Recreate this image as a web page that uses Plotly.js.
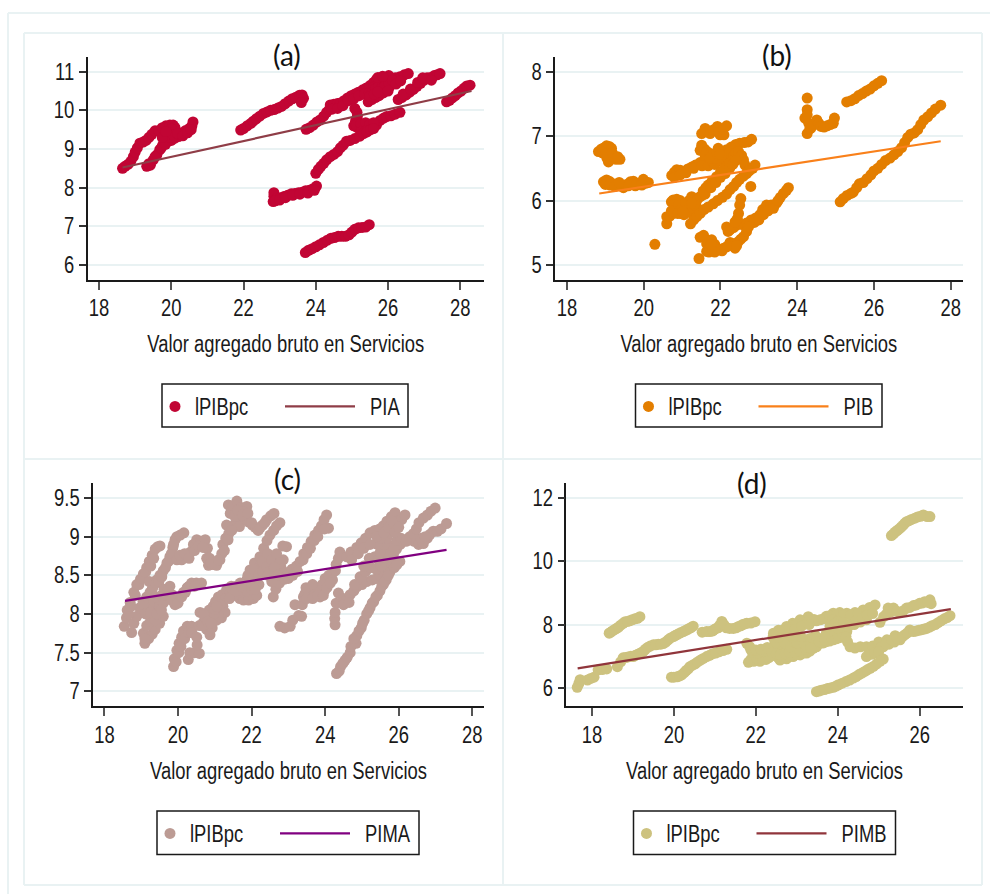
<!DOCTYPE html>
<html><head><meta charset="utf-8">
<script src="https://cdn.plot.ly/plotly-3.0.1.min.js"></script>
<style>html,body{margin:0;padding:0;background:#fff}#g{width:990px;height:894px}</style>
</head><body><div id="g"></div>
<script>
const xTitle = "Valor agregado bruto en Servicios";
const markerName = "lPIBpc";
const panelLabels = ["(a)","(b)","(c)","(d)"];
const lineNames = ["PIA","PIB","PIMA","PIMB"];
const xTicks = [[18,20,22,24,26,28],[18,20,22,24,26,28],[18,20,22,24,26,28],[18,20,22,24,26]];
const yTicks = [[6,7,8,9,10,11],[5,6,7,8],[7,7.5,8,8.5,9,9.5],[6,8,10,12]];
const yTickText = [["6","7","8","9","10","11"],["5","6","7","8"],["7","7.5","8","8.5","9","9.5"],["6","8","10","12"]];

const lineA = [[18.65,8.52],[28.31,10.5]];
const lineB = [[18.84,6.11],[27.74,6.92]];
const lineC = [[18.56,8.17],[27.3,8.83]];
const lineD = [[17.65,6.62],[26.76,8.49]];

const pointsA = [
[18.65,8.5],[18.72,8.55],[18.8,8.6],[18.88,8.68],[18.95,8.8],[19.0,8.92],[19.06,9.03],[19.13,9.15],[19.22,9.18],[19.3,9.22],[19.38,9.3],[19.46,9.38],[19.55,9.47],[19.65,9.47],[19.75,9.55],[19.85,9.6],[19.96,9.62],[20.05,9.62],[20.1,9.56],
[19.32,8.55],[19.42,8.58],[19.5,8.72],[19.6,8.85],[19.68,8.98],[19.76,9.1],[19.82,9.2],[19.9,9.35],[19.95,9.45],[20.0,9.52],[19.9,9.2],[20.0,9.22],[20.1,9.28],[20.2,9.32],[20.3,9.42],[20.4,9.48],[20.5,9.53],[20.57,9.6],[20.6,9.7],
[19.38,8.62],[19.55,8.8],[19.72,9.02],[19.84,9.12],[19.96,9.3],[20.06,9.36],[20.18,9.4],[20.32,9.34],[20.45,9.42],[20.55,9.5],[19.75,9.3],[19.85,9.45],
[21.92,9.49],[22.0,9.53],[22.1,9.6],[22.2,9.66],[22.27,9.72],[22.35,9.78],[22.45,9.85],[22.55,9.92],[22.65,9.96],[22.75,10.0],[22.85,10.02],[22.95,10.06],[23.05,10.1],[23.15,10.17],[23.25,10.24],[23.35,10.3],[23.45,10.34],[23.55,10.39],[23.62,10.4],[23.66,10.31],[23.6,10.2],
[23.73,9.51],[23.83,9.55],[23.93,9.62],[24.03,9.7],[24.12,9.75],[24.22,9.85],[24.3,9.95],[24.38,10.03],[24.4,10.14],[24.5,10.16],[24.6,10.18],[24.68,10.19],[24.78,10.25],[24.88,10.32],[24.98,10.38],[25.08,10.42],[25.18,10.47],[25.3,10.53],[25.4,10.58],[25.5,10.64],[25.6,10.72],[25.68,10.8],[25.8,10.8],[25.9,10.82],[26.0,10.86],[26.1,10.82],[26.2,10.84],[26.33,10.87],[26.45,10.92],[26.56,10.95],
[24.45,10.03],[24.6,10.05],[24.75,10.12],[24.9,10.25],[25.05,10.3],[25.2,10.38],[25.35,10.42],[25.48,10.46],[25.6,10.52],[25.6,10.6],[25.75,10.7],
[25.45,10.22],[25.55,10.28],[25.65,10.33],[25.75,10.38],[25.87,10.45],[25.95,10.52],[26.05,10.62],[26.14,10.7],[26.25,10.78],[25.55,10.45],[25.65,10.55],[25.75,10.62],[25.85,10.7],[25.95,10.76],[26.02,10.9],[25.72,10.85],
[25.82,10.56],[25.92,10.64],[26.02,10.72],[26.12,10.78],[26.22,10.68],[26.35,10.76],[25.85,10.88],[25.5,10.36],[25.62,10.42],[25.72,10.48],[26.0,10.5],
[26.28,10.28],[26.38,10.33],[26.5,10.4],[26.6,10.47],[26.7,10.54],[26.8,10.62],[26.9,10.7],[27.0,10.78],[27.08,10.84],[27.18,10.85],[27.28,10.9],[27.36,10.92],[27.44,10.95],
[26.42,10.42],[26.62,10.55],[26.82,10.72],[26.96,10.84],[27.2,10.78],
[27.62,10.22],[27.7,10.26],[27.78,10.32],[27.86,10.38],[27.94,10.45],[28.02,10.5],[28.1,10.57],[28.18,10.63],[28.27,10.65],
[25.08,10.05],[25.14,9.95],[25.15,9.84],[25.1,9.72],[25.05,9.6],[25.15,9.55],[25.3,9.53],[25.42,9.56],[25.55,9.58],[25.68,9.62],[25.78,9.74],[25.88,9.8],[25.96,9.84],[26.08,9.86],[26.2,9.9],[26.33,9.95],
[25.12,9.62],[25.25,9.65],[25.38,9.68],[25.5,9.64],[25.6,9.68],[25.25,9.44],[25.4,9.48],
[24.0,8.37],[24.07,8.47],[24.14,8.55],[24.22,8.63],[24.3,8.72],[24.4,8.8],[24.5,8.86],[24.6,8.93],[24.68,9.03],[24.76,9.1],[24.85,9.2],[24.95,9.22],[25.08,9.27],[25.22,9.33],[25.32,9.4],[25.42,9.44],[25.52,9.5],[25.6,9.53],
[22.82,7.64],[22.84,7.78],[22.84,7.87],[22.92,7.72],[23.02,7.74],[23.12,7.77],[23.22,7.8],[23.32,7.84],[23.42,7.85],[23.52,7.87],[23.62,7.88],[23.72,7.92],[23.82,7.93],[23.92,7.97],[24.02,8.04],
[22.88,7.66],[23.0,7.68],[23.16,7.74],[23.36,7.8],[23.56,7.83],[23.78,7.86],[23.96,7.93],
[23.71,6.32],[23.8,6.38],[23.9,6.42],[24.0,6.47],[24.1,6.52],[24.21,6.58],[24.32,6.64],[24.42,6.69],[24.52,6.71],[24.62,6.74],[24.72,6.74],[24.82,6.74],[24.92,6.78],[25.0,6.85],[25.08,6.92],[25.18,6.96],[25.28,6.97],[25.38,6.98],[25.48,7.04]
];

const pointsB = [
[18.82,6.76],[18.9,6.8],[18.97,6.82],[19.03,6.85],[19.1,6.84],[19.16,6.81],[19.1,6.72],[19.08,6.6],[19.14,6.64],[19.2,6.68],[19.28,6.64],[19.38,6.64],
[18.92,6.74],[19.0,6.72],[19.04,6.66],[19.18,6.74],[19.32,6.68],
[18.95,6.29],[19.03,6.32],[19.1,6.3],[19.2,6.26],[19.3,6.25],[19.4,6.24],[19.47,6.2],[19.55,6.25],[19.65,6.29],[19.73,6.3],[19.82,6.26],[19.92,6.27],[19.99,6.33],[20.06,6.27],[20.12,6.28],
[19.0,6.25],[19.12,6.24],[19.25,6.22],[19.36,6.28],[19.6,6.23],[19.78,6.23],[19.95,6.24],
[20.29,5.32],
[20.73,6.39],[20.8,6.44],[20.86,6.48],[20.95,6.47],[21.05,6.44],[21.15,6.49],[21.25,6.52],[21.35,6.55],[21.47,6.59],[21.58,6.6],[21.7,6.6],[21.81,6.62],[21.92,6.68],[22.02,6.72],[22.16,6.79],[22.28,6.83],[22.4,6.87],[22.5,6.89],[22.62,6.9],[22.72,6.91],[22.81,6.95],
[20.8,6.36],[20.95,6.4],[21.1,6.43],[21.3,6.5],[21.52,6.54],[21.68,6.54],[21.85,6.56],[22.0,6.62],[22.12,6.7],[22.22,6.74],
[21.51,7.04],[21.6,7.12],[21.68,7.08],[21.73,7.04],[21.82,7.1],[21.92,7.15],[21.96,7.06],[21.99,7.02],[22.08,7.12],[22.16,7.16],[22.09,7.02],
[21.47,6.78],[21.51,6.86],[21.58,6.8],[21.65,6.76],[21.73,6.73],[21.78,6.62],[21.85,6.66],[21.94,6.81],[22.03,6.68],
[21.6,6.7],[21.72,6.66],[21.9,6.74],[21.98,6.72],
[20.6,5.75],[20.6,5.64],[20.68,5.76],[20.77,5.8],[20.72,5.98],[20.77,6.01],[20.86,6.02],[20.95,6.0],[20.85,5.87],[20.95,5.8],[21.05,5.78],[21.12,5.88],[21.05,5.95],[21.18,6.0],[21.25,6.06],[21.2,5.82],[21.32,5.98],[21.4,6.02],[21.47,6.06],[21.55,6.15],[21.62,6.2],[21.68,6.24],[21.78,6.3],[21.9,6.37],[22.0,6.44],[22.08,6.48],[22.16,6.53],[22.25,6.58],[22.34,6.68],[22.4,6.74],[22.47,6.76],[22.55,6.7],[22.6,6.63],[22.64,6.55],[22.75,6.48],[22.84,6.5],[22.9,6.55],
[20.8,5.93],[20.9,5.92],[21.0,5.88],[21.1,5.96],[21.15,5.86],[21.28,5.9],[21.36,5.92],[20.72,5.84],[20.88,5.8],[21.02,5.82],[21.25,5.96],[21.52,6.08],[21.6,6.1],[21.75,6.2],[21.88,6.28],[22.0,6.36],[22.12,6.42],[22.24,6.5],[22.32,6.56],[22.4,6.62],
[21.22,5.64],[21.3,5.7],[21.38,5.75],[21.47,5.8],[21.57,5.86],[21.68,5.9],[21.81,5.95],[21.92,6.0],[22.05,6.05],[22.16,6.1],[22.25,6.17],[22.34,6.22],[22.42,6.28],[22.5,6.33],[22.6,6.38],[22.68,6.42],[22.75,6.46],[22.79,6.22],
[22.16,5.59],[22.25,5.55],[22.34,5.58],[22.42,5.62],[22.55,5.63],[22.68,5.65],[22.8,5.7],[22.92,5.73],[23.03,5.78],[23.1,5.86],[23.2,5.93],[23.32,5.93],[23.46,5.96],[23.56,6.05],[23.64,6.11],[23.72,6.16],[23.77,6.2],
[22.2,5.52],[22.72,5.6],[22.88,5.66],[23.0,5.7],[23.12,5.78],[23.24,5.84],[23.38,5.88],[23.5,6.0],
[22.53,6.03],[22.5,5.93],[22.47,5.8],[22.44,5.72],[22.38,5.67],
[21.44,5.1],[21.47,5.43],[21.56,5.46],[21.64,5.33],[21.64,5.21],[21.72,5.26],[21.77,5.39],[21.85,5.32],[21.9,5.26],[21.98,5.24],[22.08,5.26],[22.16,5.28],[22.25,5.35],[22.32,5.33],[22.38,5.26],[22.46,5.36],[22.53,5.4],[22.6,5.44],[22.68,5.52],[22.73,5.59],
[21.7,5.2],[21.8,5.22],[21.85,5.2],[21.75,5.32],[22.04,5.22],[22.2,5.3],[22.42,5.3],
[24.2,7.28],[24.26,7.41],[24.26,7.33],[24.26,7.59],[24.3,7.2],[24.33,7.12],[24.26,7.04],[24.35,7.12],[24.42,7.17],[24.51,7.25],[24.56,7.2],[24.62,7.15],[24.7,7.14],[24.78,7.16],[24.86,7.18],[24.94,7.2],[24.97,7.28],
[25.29,7.53],[25.4,7.55],[25.5,7.58],[25.6,7.63],[25.7,7.66],[25.8,7.7],[25.9,7.73],[26.0,7.78],[26.1,7.82],[26.2,7.86],
[25.12,5.98],[25.2,6.03],[25.3,6.08],[25.4,6.11],[25.46,6.13],[25.55,6.2],[25.62,6.26],[25.72,6.28],[25.82,6.34],[25.92,6.4],[26.0,6.46],[26.1,6.5],[26.2,6.56],[26.3,6.62],[26.42,6.66],[26.52,6.71],[26.62,6.76],[26.72,6.82],[26.8,6.9],[26.88,6.98],[26.96,7.03],[27.05,7.05],[27.14,7.1],[27.22,7.18],[27.3,7.25],[27.4,7.3],[27.5,7.36],[27.6,7.42],[27.74,7.48]
];

const pointsC = [
[18.54,7.84],[18.6,7.95],[18.62,8.05],[18.7,8.15],[18.8,8.28],[18.88,8.38],[18.98,8.45],[19.06,8.52],[19.15,8.6],[19.22,8.68],[19.3,8.76],[19.38,8.84],[19.45,8.87],[19.51,8.88],
[18.74,7.76],[18.8,7.88],[18.88,7.97],[18.96,8.08],[19.05,8.16],[19.15,8.22],[19.24,8.28],[19.33,8.36],[19.42,8.44],[19.51,8.5],[19.6,8.56],[19.7,8.66],[19.78,8.74],[19.86,8.86],[19.92,8.96],[19.97,9.0],[20.06,9.02],[20.16,9.05],
[18.66,8.0],[18.72,8.1],[18.84,8.24],[18.94,8.38],[19.02,8.46],[19.12,8.54],[19.26,8.62],[19.34,8.72],[19.22,8.42],[19.3,8.32],[19.4,8.4],[19.48,8.42],[19.56,8.48],[19.66,8.6],[19.74,8.68],[19.82,8.78],[19.88,8.9],
[19.1,7.62],[19.06,7.75],[19.2,7.68],[19.3,7.74],[19.38,7.8],[19.5,7.88],[19.6,7.97],[19.48,8.02],[19.33,8.05],[19.2,8.1],[19.06,8.12],[19.2,8.2],[19.35,8.16],[19.5,8.1],[19.6,8.14],[19.68,8.24],[19.78,8.36],[19.84,8.25],[19.92,8.12],[20.02,8.2],[20.15,8.28],[20.25,8.34],[20.37,8.4],[20.5,8.4],[20.64,8.4],
[19.1,7.68],[19.15,7.85],[19.25,7.9],[19.38,7.92],[19.12,8.0],[19.25,8.02],[19.42,8.0],[19.55,8.05],[19.4,8.22],[19.55,8.24],[19.62,8.32],[19.72,8.3],[19.82,8.18],[20.0,8.14],[20.1,8.22],[20.2,8.28],[20.3,8.36],[20.45,8.36],
[19.97,8.7],[20.1,8.7],[20.24,8.74],[20.34,8.8],[20.42,8.9],[20.51,8.96],[20.62,8.94],[20.74,8.96],[20.8,8.85],[20.78,8.72],[20.83,8.63],[20.95,8.64],[21.05,8.63],[21.14,8.7],[21.19,8.78],[21.22,8.9],[21.3,8.98],[21.38,9.04],[21.32,9.15],[21.5,9.14],[21.58,9.2],[21.67,9.13],[21.42,9.3],[21.37,9.41],[21.5,9.4],[21.6,9.46],[21.7,9.38],[21.87,9.39],[21.78,9.32],[21.82,9.24],[21.91,9.19],[22.02,9.15],[22.1,9.12],[22.18,9.08],[22.3,9.15],[22.41,9.22],[22.52,9.27],[22.61,9.3],
[20.05,8.76],[20.18,8.78],[20.3,8.72],[20.45,8.82],[20.56,8.88],[20.68,8.86],[20.86,8.72],[20.9,8.66],[21.1,8.7],[21.26,8.82],[21.36,8.96],[21.46,9.08],[21.55,9.26],[21.62,9.34],[21.75,9.28],[21.9,9.3],[22.0,9.18],[22.24,9.12],[22.36,9.18],
[19.88,7.32],[19.9,7.42],[19.97,7.53],[20.03,7.62],[20.1,7.7],[20.15,7.78],[20.25,7.84],[20.37,7.84],
[19.95,7.38],[20.02,7.5],[20.08,7.58],[20.18,7.68],[20.3,7.76],[20.38,7.76],
[20.28,7.41],[20.32,7.5],[20.45,7.5],[20.58,7.49],[20.52,7.6],[20.51,7.7],[20.58,7.85],[20.6,8.02],[20.7,7.9],[20.78,7.8],[20.87,7.73],[20.93,7.82],[21.05,7.92],[21.18,7.95],[21.28,8.02],[21.1,8.05],[20.96,8.1],[21.02,8.16],[21.1,8.22],[21.2,8.25],[21.32,8.31],[21.45,8.36],[21.58,8.36],[21.69,8.4],[21.55,8.24],[21.68,8.2],[21.78,8.18],[21.92,8.18],[22.05,8.2],[22.14,8.24],[22.2,8.38],[21.88,8.45],[21.96,8.57],[22.08,8.66],[22.23,8.74],[22.33,8.85],[22.42,8.95],[22.5,9.02],[22.6,9.08],[22.68,9.14],[22.77,9.18],
[20.66,7.85],[20.75,7.95],[20.85,7.98],[20.95,7.95],[21.1,7.98],[20.85,8.05],[20.98,8.0],[21.22,8.1],[21.3,8.2],[21.42,8.28],[21.5,8.3],[21.62,8.28],[21.75,8.3],[21.88,8.3],[22.0,8.32],[22.1,8.45],[22.0,8.5],[22.15,8.58],[21.8,8.38],[21.95,8.42],[22.25,8.62],[22.38,8.72],
[20.7,8.0],[20.8,7.9],[21.0,8.06],[21.15,8.12],[21.05,8.1],[20.9,7.88],[21.4,8.2],[21.58,8.3],[21.72,8.36],[21.9,8.5],[22.04,8.58],[22.1,8.32],[22.2,8.5],[22.3,8.68],[22.44,8.78],[22.3,8.55],
[22.59,8.22],[22.66,8.32],[22.76,8.4],[22.86,8.48],[22.8,8.6],[22.86,8.7],[22.95,8.87],[22.85,8.88],[22.41,8.61],[22.55,8.7],[22.68,8.78],[22.78,8.66],[23.0,8.54],[23.1,8.58],[23.22,8.62],[23.32,8.68],[23.42,8.78],[23.52,8.86],[23.62,8.94],[23.72,9.02],[23.82,9.08],[23.9,9.14],[23.97,9.22],[24.04,9.28],[24.09,9.11],
[22.5,8.55],[22.62,8.6],[22.7,8.5],[22.55,8.42],[22.45,8.5],[22.9,8.45],[23.0,8.46],[23.12,8.5],[23.25,8.55],[23.4,8.7],[23.5,8.78],[23.6,8.85],[23.7,8.95],[23.8,9.0],[23.98,9.1],
[22.77,7.84],[22.9,7.82],[23.05,7.84],[23.12,7.92],[23.18,8.12],[23.28,7.98],[23.36,7.97],[23.38,8.12],[23.41,8.22],[23.55,8.26],[23.7,8.24],[23.86,8.22],[23.98,8.3],[24.09,8.4],[24.16,8.47],[24.22,8.54],[24.3,8.64],[24.36,8.72],[24.4,8.8],
[23.45,8.26],[23.6,8.3],[23.74,8.34],[23.85,8.3],[23.92,8.38],[24.0,8.46],[24.1,8.5],[24.2,8.44],[24.28,8.56],
[23.5,8.2],[23.66,8.2],[23.8,8.24],[23.95,8.24],[24.05,8.34],[24.14,8.4],[23.48,8.34],[23.66,8.38],
[24.27,7.86],[24.26,7.94],[24.27,8.02],[24.3,8.14],[24.36,8.27],[24.5,8.2],[24.59,8.18],[24.68,8.25],[24.78,8.3],[24.86,8.35],[25.0,8.38],[25.13,8.42],[25.28,8.44],[25.4,8.46],[25.49,8.5],[25.58,8.55],[25.67,8.62],[25.78,8.7],[25.86,8.78],[25.94,8.84],[26.04,8.9],[26.14,8.95],[26.3,9.0],[26.42,8.94],[26.54,8.9],[26.67,8.91],[26.78,8.98],[26.85,9.03],[26.94,9.07],[27.05,9.07],[27.15,9.1],[27.3,9.17],
[24.5,8.12],[24.65,8.15],[24.8,8.38],[24.95,8.48],[25.1,8.55],[25.25,8.6],[25.38,8.58],[25.52,8.62],[25.62,8.72],[25.7,8.8],[25.82,8.88],[25.95,8.95],[26.06,8.98],[26.2,8.94],[25.05,8.62],[25.2,8.72],[25.35,8.74],[25.45,8.7],[26.6,8.98],[26.72,9.0],
[24.31,7.23],[24.42,7.32],[24.54,7.4],[24.68,7.5],[24.7,7.58],[24.84,7.62],[24.86,7.72],[24.98,7.82],[25.06,7.92],[25.13,8.0],[25.22,8.08],[25.32,8.16],[25.42,8.24],[25.49,8.3],[25.58,8.38],[25.66,8.44],[25.76,8.54],[25.88,8.6],[26.03,8.68],
[24.38,7.26],[24.48,7.36],[24.6,7.44],[24.78,7.68],[24.92,7.78],[25.02,7.88],[25.18,8.04],[25.28,8.14],[25.38,8.22],[25.54,8.36],[25.62,8.42],[25.72,8.5],[25.95,8.64],
[24.59,8.74],[24.7,8.8],[24.86,8.86],[24.98,8.92],[25.1,8.98],[25.22,9.05],[25.35,9.08],[25.48,9.1],[25.58,9.14],[25.68,9.2],[25.8,9.26],[25.9,9.31],[25.5,8.8],[25.6,8.9],[25.68,8.98],[25.76,9.05],[25.85,9.13],[25.96,9.2],[26.08,9.22],[26.17,9.28],
[25.42,8.9],[25.5,8.98],[25.4,9.0],[25.6,9.05],[25.72,9.12],[25.82,9.2],[25.9,9.06],[26.0,9.12],[24.72,8.7],[24.9,8.78],[25.05,8.85],[25.22,8.9],
[26.4,9.04],[26.48,9.1],[26.55,9.18],[26.67,9.24],[26.78,9.28],[26.88,9.33],[26.99,9.37]
];

const pointsD = [
[17.64,6.02],[17.68,6.14],[17.71,6.26],[17.89,6.25],[17.97,6.3],[18.05,6.34],[18.15,6.57],[18.25,6.58],[18.36,6.6],
[18.62,6.67],[18.7,6.82],[18.76,6.95],[18.88,6.98],[19.01,6.99],[19.12,7.06],[19.25,7.15],[19.36,7.28],[19.5,7.36],[19.62,7.38],[19.74,7.4],[19.86,7.52],[19.99,7.62],[20.1,7.7],[20.23,7.78],[20.35,7.86],[20.47,7.95],
[18.82,6.96],[18.95,7.0],[19.06,7.03],[19.18,7.1],[19.3,7.22],[19.42,7.32],[19.56,7.36],[19.68,7.38],[19.8,7.45],[19.92,7.58],[20.04,7.66],[20.16,7.74],[20.29,7.82],[20.41,7.9],
[18.42,7.73],[18.5,7.8],[18.6,7.88],[18.7,7.98],[18.81,8.09],[18.92,8.12],[19.05,8.18],[19.17,8.25],
[18.46,7.76],[18.55,7.84],[18.65,7.92],[18.76,8.04],[18.87,8.1],[18.98,8.15],[19.11,8.2],
[20.69,7.76],[20.88,7.78],[20.98,7.84],[21.08,7.9],[21.17,8.1],[21.28,7.9],[21.45,7.88],[21.58,7.94],[21.68,8.0],[21.78,8.04],[21.88,8.05],[21.98,8.09],
[20.8,7.78],[20.95,7.8],[21.03,7.88],[21.12,7.98],[21.22,8.0],[21.36,7.88],[21.52,7.9],[21.63,7.96],[21.73,8.02],
[19.94,6.34],[20.08,6.35],[20.19,6.41],[20.3,6.55],[20.39,6.67],[20.52,6.76],[20.65,6.88],[20.8,6.99],[20.95,7.08],[21.1,7.14],[21.29,7.22],
[20.0,6.34],[20.14,6.38],[20.25,6.48],[20.35,6.6],[20.46,6.72],[20.58,6.82],[20.72,6.93],[20.87,7.03],[21.02,7.1],[21.2,7.18],
[21.82,6.81],[21.95,6.84],[22.1,6.84],[22.25,6.9],[22.4,7.02],[22.51,7.2],[22.55,6.95],[22.59,6.88],[22.75,6.92],[22.91,6.99],[23.08,7.04],[23.24,7.1],[23.4,7.25],[23.57,7.41],[23.72,7.46],[23.89,7.52],[24.02,7.58],[24.14,7.62],
[21.88,6.9],[22.02,6.94],[22.17,6.9],[22.32,6.96],[22.67,6.96],[22.83,7.0],[23.0,7.06],[23.16,7.1],[23.32,7.16],[23.48,7.3],[23.65,7.42],[23.8,7.48],[23.96,7.55],[24.08,7.6],
[21.78,7.41],[21.92,7.12],[22.05,7.1],[22.2,7.15],[22.35,7.22],[22.45,7.35],[22.55,7.32],[22.65,7.15],[22.75,7.3],[22.88,7.4],[22.62,7.5],[22.8,7.55],[22.42,7.6],[22.65,7.68],[22.88,7.2],[23.0,7.28],[23.15,7.35],[23.3,7.4],[23.5,7.55],[23.7,7.62],[23.85,7.7],
[21.85,7.3],[21.88,7.2],[22.0,7.2],[22.12,7.22],[22.28,7.28],[22.4,7.12],[22.5,7.08],[22.6,7.05],[22.72,7.08],[22.82,7.12],[22.95,7.14],[23.08,7.18],[23.22,7.22],[23.4,7.38],[23.6,7.56],[23.78,7.64],[22.5,7.45],[22.7,7.42],[22.85,7.3],[22.95,7.45],[22.92,7.58],[22.55,7.6],[22.72,7.72],[22.82,7.68],[23.0,7.42],[23.15,7.5],[23.32,7.56],[23.45,7.66],[23.95,7.78],[24.05,7.74],
[22.98,7.64],[23.1,7.62],[23.24,7.3],[23.34,7.26],[23.55,7.46],[23.68,7.52],[23.85,7.58],[24.0,7.66],[24.12,7.72],[24.22,7.78],[23.72,7.72],[23.88,7.84],
[22.43,7.73],[22.55,7.82],[22.75,7.94],[22.9,8.04],[23.08,8.15],[23.28,8.25],[23.42,8.16],[23.57,8.15],[23.72,8.26],[23.89,8.36],[24.05,8.38],[24.22,8.36],[24.42,8.38],[24.62,8.46],[24.78,8.54],[24.91,8.62],
[22.5,7.72],[22.65,7.82],[22.82,7.9],[22.98,8.0],[23.15,8.08],[23.3,8.12],[23.48,8.12],[23.65,8.18],[23.8,8.28],[23.97,8.3],[24.14,8.3],[24.32,8.3],[24.5,8.36],[24.7,8.46],[22.95,7.85],[23.12,7.95],[23.3,8.0],
[23.81,7.94],[23.88,8.15],[24.0,8.1],[24.1,7.95],[24.25,7.92],[24.4,8.0],[24.55,8.08],[24.7,8.15],
[23.92,8.02],[24.0,7.9],[24.15,8.05],[24.3,8.0],[24.45,8.12],[24.6,8.2],[24.72,8.3],[24.85,8.35],
[24.2,7.62],[24.24,7.45],[24.3,7.3],[24.42,7.26],[24.55,7.3],[24.7,7.3],[24.7,6.99],[24.82,7.06],[24.95,7.22],[25.11,7.3],[25.25,7.38],[25.38,7.45],[25.52,7.52],[25.64,7.68],[25.76,7.83],[25.92,7.8],[26.05,7.84],[26.17,7.88],[26.3,7.96],[26.45,8.06],[26.6,8.18],[26.74,8.28],
[24.85,7.32],[25.0,7.45],[25.2,7.52],[25.4,7.65],[25.05,7.28],[25.18,7.4],[25.32,7.52],[25.45,7.58],[25.58,7.62],[25.7,7.74],[25.85,7.78],[25.98,7.82],[26.11,7.86],[26.24,7.92],[26.38,8.0],[26.52,8.12],[26.67,8.22],[24.9,7.1],[25.0,7.15],
[23.48,5.88],[23.6,5.93],[23.75,5.98],[23.89,6.02],[24.02,6.1],[24.2,6.2],[24.38,6.31],[24.52,6.42],[24.66,6.52],[24.79,6.62],[24.95,6.76],[25.11,6.91],
[23.54,5.9],[23.68,5.95],[23.82,6.0],[23.96,6.06],[24.11,6.15],[24.29,6.25],[24.45,6.36],[24.59,6.47],[24.72,6.57],[24.87,6.68],[25.03,6.84],
[25.03,8.07],[25.12,8.25],[25.23,8.52],[25.36,8.52],[25.52,8.38],[25.68,8.52],[25.85,8.6],[26.0,8.67],[26.12,8.72],[26.25,8.78],[26.28,8.66],
[25.18,8.32],[25.3,8.4],[25.44,8.42],[25.6,8.44],[25.76,8.54],[25.92,8.62],[26.06,8.68],[26.2,8.7],
[25.31,10.81],[25.4,10.92],[25.5,11.02],[25.6,11.14],[25.68,11.25],[25.8,11.32],[25.95,11.4],[26.09,11.46],[26.18,11.41],[26.25,11.41],
[25.36,10.86],[25.45,10.97],[25.55,11.08],[25.64,11.2],[25.74,11.28],[25.88,11.36],[26.02,11.42]
];

const colors = {
  points: ["#C10534","#E37E00","#BC9B94","#CDC27F"],
  lines: ["#8F3D47","#F9801A","#800080","#90353B"]
};
const allPoints = [pointsA,pointsB,pointsC,pointsD];
const allLines = [lineA,lineB,lineC,lineD];

// panel geometry in page pixels
const W=990,H=894;
const geo = [
 {l:87.5,r:484,t:57,b:280,xr:[17.68,28.656],yr:[5.61,11.38],tx:287,ty:55,box:[162,384,408,427]},
 {l:555,r:962.7,t:57,b:280,xr:[17.687,28.313],yr:[4.767,8.228],tx:777,ty:55,box:[635.5,384,882,427]},
 {l:93,r:484,t:483.3,b:706.3,xr:[17.69,28.318],yr:[6.806,9.69],tx:287,ty:479,box:[157,811,419,854.5]},
 {l:566.3,r:962.7,t:483.3,b:706.3,xr:[17.373,27.05],yr:[5.42,12.46],tx:752,ty:483,box:[633.5,811,895.5,854.5]}
];
const frame="#e9f2f3";
const traces=[],shapes=[],annotations=[];
const layout={width:W,height:H,margin:{l:0,r:0,t:0,b:0},paper_bgcolor:"#fff",plot_bgcolor:"#fff",showlegend:true,hovermode:false};
const font="Liberation Sans, Arial, sans-serif";
const ink="#1a1a1a";
const FS=23;

geo.forEach((g,i)=>{
  const s=i===0?"":String(i+1);
  const xa="xaxis"+s, ya="yaxis"+s;
  layout[xa]={domain:[g.l/W,g.r/W],range:g.xr,anchor:"y"+s,tickmode:"array",tickvals:xTicks[i],ticktext:xTicks[i].map(String),
    ticks:"outside",ticklen:8,ticklabelstandoff:-1,tickwidth:1.5,tickcolor:"#555",showgrid:false,zeroline:false,showline:true,linecolor:ink,linewidth:1.5,
    tickfont:{family:font,size:FS,color:ink},title:{text:xTitle,font:{family:font,size:FS,color:ink},standoff:16}};
  layout[ya]={domain:[1-g.b/H,1-g.t/H],range:g.yr,anchor:"x"+s,tickmode:"array",tickvals:yTicks[i],ticktext:yTickText[i],
    ticks:"outside",ticklen:7,tickwidth:1.5,tickcolor:"#333",showgrid:true,gridcolor:frame,gridwidth:2,zeroline:false,showline:true,linecolor:ink,linewidth:1.5,
    tickfont:{family:font,size:FS,color:ink}};
  const legA="legend"+(i===0?"":String(2*i+1)), legB="legend"+String(2*i+2);
  traces.push({type:"scatter",mode:"markers",x:allPoints[i].map(p=>p[0]),y:allPoints[i].map(p=>p[1]),xaxis:"x"+s,yaxis:"y"+s,
    name:markerName,legend:legA,marker:{color:colors.points[i],size:11,line:{width:0}},cliponaxis:false});
  traces.push({type:"scatter",mode:"lines",x:allLines[i].map(p=>p[0]),y:allLines[i].map(p=>p[1]),xaxis:"x"+s,yaxis:"y"+s,
    name:lineNames[i],legend:legB,line:{color:colors.lines[i],width:2.2}});
  const b=g.box;
  const leg=(x,y,iw)=>({x:x/W,y:1-y/H,xanchor:"left",yanchor:"top",bgcolor:"rgba(0,0,0,0)",borderwidth:0,itemwidth:iw,font:{family:font,size:FS,color:ink},itemclick:false,itemdoubleclick:false,tracegroupgap:0});
  layout[legA]=leg(b[0]-7,b[1]+1,30);
  layout[legB]=leg(b[0]+118,b[1]+1,70);
  shapes.push({type:"rect",xref:"paper",yref:"paper",x0:b[0]/W,x1:b[2]/W,y0:1-b[1]/H,y1:1-b[3]/H,line:{color:ink,width:1.5},fillcolor:"rgba(0,0,0,0)"});
  annotations.push({xref:"paper",yref:"paper",x:g.tx/W,y:1-g.ty/H,xanchor:"center",yanchor:"middle",text:panelLabels[i],showarrow:false,font:{family:"Lato, sans-serif",size:28,color:"#111"}});
});
// region frames
const frames=[[8,13,990,13],[8,13,8,894],[24,33,982,33],[24,33,24,885],[982,33,982,885],[24,885,982,885],[24,459,982,459],[503,33,503,885]];
frames.forEach(f=>shapes.unshift({type:"line",layer:"below",xref:"paper",yref:"paper",x0:f[0]/W,x1:f[2]/W,y0:1-f[1]/H,y1:1-f[3]/H,line:{color:frame,width:2}}));
layout.shapes=shapes;layout.annotations=annotations;

// the reference's text is a horizontally squeezed sans: compress the glyphs of the real text nodes
const squeeze=0.8;
function squeezeText(gd){
  gd.querySelectorAll(".xaxislayer-above text,.yaxislayer-above text,.infolayer text[class$='title'],.infolayer text[class^='legend']").forEach(t=>{
    t.removeAttribute("textLength");
    const len=t.getComputedTextLength();
    t.setAttribute("lengthAdjust","spacingAndGlyphs");
    t.setAttribute("textLength",(len*squeeze).toFixed(1));
    if(/^legend/.test(t.getAttribute("class"))&&lineNames.includes(t.textContent)) t.setAttribute("x","90");
  });
}
Plotly.newPlot("g",traces,layout,{displayModeBar:false}).then(gd=>{
  squeezeText(gd);
  [50,200,500].forEach(ms=>setTimeout(()=>squeezeText(gd),ms));
});
</script></body></html>
